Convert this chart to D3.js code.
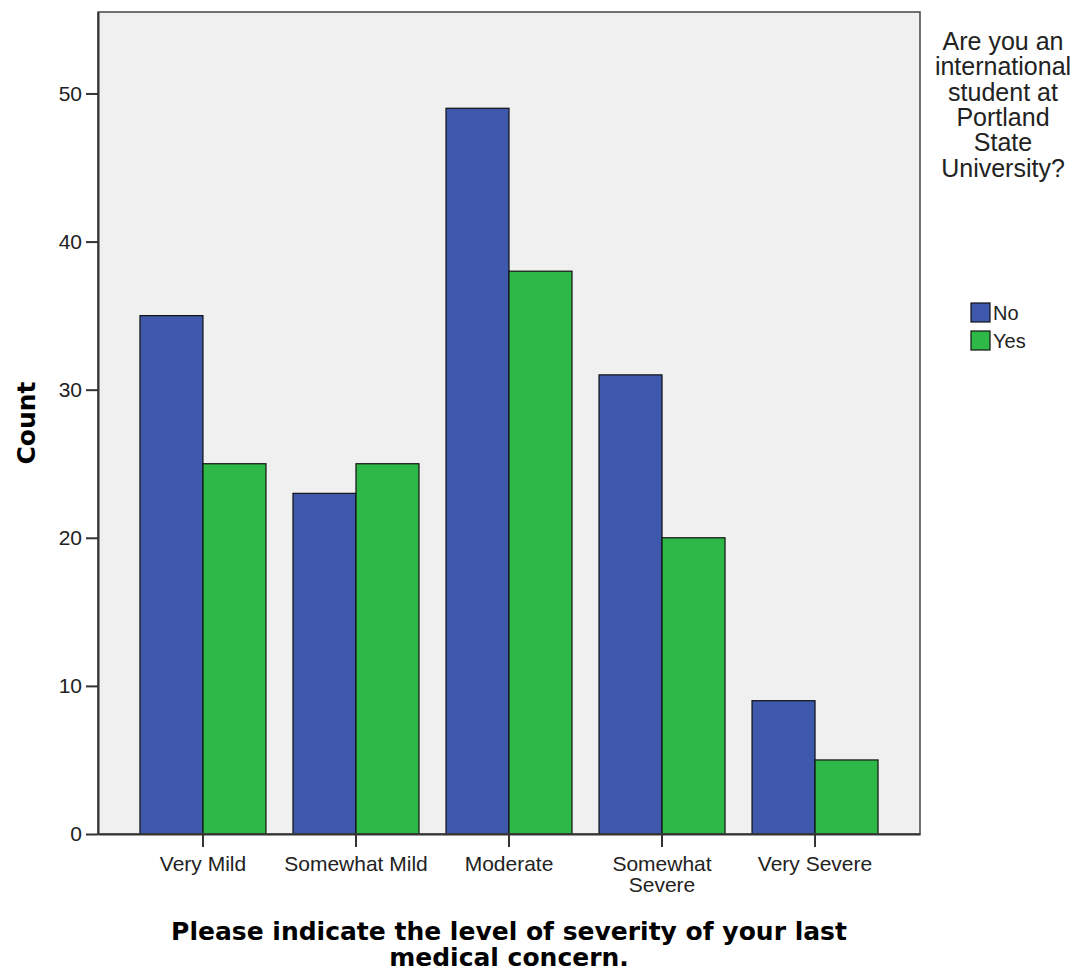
<!DOCTYPE html>
<html><head><meta charset="utf-8">
<script src="https://cdn.jsdelivr.net/npm/d3@7"></script>
<style>body{margin:0;background:#fff}svg{display:block}</style>
</head><body>
<script>
const categories = ["Very Mild","Somewhat Mild","Moderate","Somewhat Severe","Very Severe"];
const categoryLines = [["Very Mild"],["Somewhat Mild"],["Moderate"],["Somewhat","Severe"],["Very Severe"]];
const seriesNames = ["No","Yes"];
const noValues = [35,23,49,31,9];
const yesValues = [25,25,38,20,5];
const yTicks = [0,10,20,30,40,50];
const colors = ["#3E58AC","#2EB848"];
const legendTitle = ["Are you an","international","student at","Portland","State","University?"];
const xTitle = ["Please indicate the level of severity of your last","medical concern."];

const W=1078,H=975;
const L=98,R=920,T=12,B=834;
const svg=d3.select("body").append("svg").attr("width",W).attr("height",H);
const x0=d3.scaleBand().domain(categories).range([L,R]).paddingInner(0).paddingOuter(0.186);
const x1=d3.scaleBand().domain(seriesNames).range([0,126]);
const y=d3.scaleLinear().domain([0,55.5]).range([B,T]);

svg.append("rect").attr("x",L).attr("y",T).attr("width",R-L).attr("height",B-T).attr("fill","#F0F0F0");

const data = categories.map((c,i)=>({c, vals:[noValues[i],yesValues[i]]}));
const g=svg.append("g");
data.forEach(d=>{
  const cx=x0(d.c)+x0.bandwidth()/2-63;
  d.vals.forEach((v,j)=>{
    g.append("rect").attr("x",cx+x1(seriesNames[j])).attr("y",y(v))
      .attr("width",x1.bandwidth()).attr("height",y(0)-y(v))
      .attr("fill",colors[j]).attr("stroke","#111").attr("stroke-width",1.2);
  });
});

// frame
svg.append("rect").attr("x",L).attr("y",T).attr("width",R-L).attr("height",B-T).attr("fill","none").attr("stroke","#444").attr("stroke-width",1.5);

// y axis
const ya=svg.append("g").attr("transform",`translate(${L},0)`)
  .call(d3.axisLeft(y).tickValues(yTicks).tickSize(12).tickSizeOuter(0).tickPadding(4).tickFormat(d3.format("d")));
ya.select(".domain").attr("stroke","#333").attr("stroke-width",2);
ya.selectAll(".tick line").attr("stroke","#333").attr("stroke-width",2);
ya.selectAll(".tick text").attr("font-family","Liberation Sans, Arial, sans-serif").attr("font-size",21).attr("fill","#222");

// x axis
const xa=svg.append("g").attr("transform",`translate(0,${B})`)
  .call(d3.axisBottom(x0).tickSize(13).tickSizeOuter(0).tickFormat(""));
xa.select(".domain").attr("stroke","#333").attr("stroke-width",2);
xa.selectAll(".tick line").attr("stroke","#333").attr("stroke-width",2);
categories.forEach((c,i)=>{
  const t=svg.append("text").attr("x",x0(c)+x0.bandwidth()/2).attr("text-anchor","middle")
    .attr("font-family","Liberation Sans, Arial, sans-serif").attr("font-size",21).attr("fill","#222");
  categoryLines[i].forEach((ln,k)=>t.append("tspan").attr("x",x0(c)+x0.bandwidth()/2).attr("y",871+k*21).text(ln));
});

// axis titles
svg.append("text").attr("transform",`translate(35,${(T+B)/2}) rotate(-90)`).attr("text-anchor","middle")
  .attr("font-family","DejaVu Sans, sans-serif").attr("font-weight","bold").attr("font-size",25).attr("fill","#000").text("Count");
const xt=svg.append("text").attr("text-anchor","middle").attr("font-family","DejaVu Sans, sans-serif")
  .attr("font-weight","bold").attr("font-size",25).attr("fill","#000");
xTitle.forEach((ln,k)=>xt.append("tspan").attr("x",(L+R)/2).attr("y",940+k*26).text(ln));

// legend
const lt=svg.append("text").attr("text-anchor","middle").attr("font-family","Liberation Sans, Arial, sans-serif")
  .attr("font-size",25).attr("fill","#222");
legendTitle.forEach((ln,k)=>lt.append("tspan").attr("x",1003).attr("y",50+k*25.3).text(ln));
seriesNames.forEach((s,j)=>{
  svg.append("rect").attr("x",971).attr("y",303+j*28).attr("width",19).attr("height",19)
    .attr("fill",colors[j]).attr("stroke","#111").attr("stroke-width",1.2);
  svg.append("text").attr("x",993).attr("y",320+j*28).attr("font-family","Liberation Sans, Arial, sans-serif")
    .attr("font-size",20).attr("fill","#222").text(s);
});
</script>
</body></html>
